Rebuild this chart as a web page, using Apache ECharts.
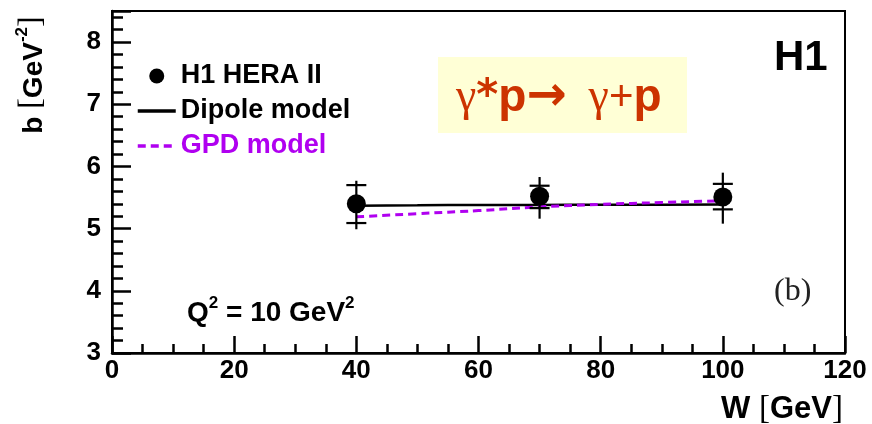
<!DOCTYPE html>
<html>
<head>
<meta charset="utf-8">
<script src="https://cdn.jsdelivr.net/npm/echarts@6/dist/echarts.min.js"></script>
<style>
  html, body { margin: 0; padding: 0; background: #fff; }
  #chart { width: 872px; height: 424px; }
</style>
</head>
<body>
<div id="chart"></div>
<script>
// DVCS t-slope b versus W at Q^2 = 10 GeV^2
const W = [40, 70, 100];
const bValue = [5.40, 5.52, 5.51];
const statHigh = [5.70, 5.69, 5.72];
const statLow = [5.09, 5.33, 5.31];
const totalHigh = [5.77, 5.83, 5.90];
const totalLow = [4.99, 5.16, 5.08];

// model curves
const modelW = [40, 50, 60, 70, 80, 90, 100];
const dipole = [5.37, 5.375, 5.38, 5.38, 5.385, 5.385, 5.39];
const gpd = [5.19, 5.24, 5.29, 5.35, 5.39, 5.42, 5.45];

const xTicks = [0, 20, 40, 60, 80, 100, 120];
const yTicks = [3, 4, 5, 6, 7, 8];

const SANS = 'Liberation Sans, Arial, Helvetica, sans-serif';
const SERIF = 'Liberation Serif, Times New Roman, serif';
const DEJAVU = 'DejaVu Sans, sans-serif';
const GPD_COLOR = '#b000f0';
const REACTION_COLOR = '#cc3300';

const chart = echarts.init(document.getElementById('chart'));

const errorData = W.map((w, i) => [w, totalLow[i], totalHigh[i], statLow[i], statHigh[i]]);

chart.setOption({
  animation: false,
  backgroundColor: '#ffffff',
  grid: {
    left: 112, right: 27, top: 11, bottom: 71,
    show: true, borderColor: '#000', borderWidth: 2, backgroundColor: 'transparent'
  },
  xAxis: {
    type: 'value',
    min: xTicks[0], max: xTicks[xTicks.length - 1], interval: 20,
    axisLine: { lineStyle: { color: '#000', width: 2.5 } },
    axisTick: { inside: true, length: 17, lineStyle: { color: '#000', width: 2.5 } },
    minorTick: { show: true, splitNumber: 4, length: 9, lineStyle: { color: '#000', width: 2.5 } },
    splitLine: { show: false },
    axisLabel: {
      margin: 5, color: '#000', fontFamily: SANS, fontWeight: 'bold', fontSize: 26
    }
  },
  yAxis: {
    type: 'value',
    min: yTicks[0], max: 8.5, interval: 1,
    axisLine: { lineStyle: { color: '#000', width: 2.5 } },
    axisTick: { inside: true, length: 19, lineStyle: { color: '#000', width: 2.5 } },
    minorTick: { show: true, splitNumber: 5, length: 11, lineStyle: { color: '#000', width: 2.5 } },
    splitLine: { show: false },
    axisLabel: {
      margin: 11, color: '#000', fontFamily: SANS, fontWeight: 'bold', fontSize: 26,
      showMaxLabel: false,
      formatter: v => (yTicks.indexOf(v) >= 0 ? String(v) : '')
    }
  },
  legend: {
    orient: 'vertical',
    left: 131, top: 57,
    itemWidth: 38, itemHeight: 15, itemGap: 7,
    textStyle: { fontFamily: SANS, fontWeight: 'bold', fontSize: 27, lineHeight: 28, color: '#000' },
    data: [
      { name: 'H1 HERA II', icon: 'circle', itemStyle: { opacity: 1 } },
      { name: 'Dipole model', itemStyle: { opacity: 0 }, lineStyle: { width: 3.5 } },
      { name: 'GPD model', itemStyle: { opacity: 0 }, lineStyle: { width: 3.5 }, textStyle: { color: GPD_COLOR } }
    ]
  },
  series: [
    {
      name: 'Dipole model',
      type: 'line',
      data: modelW.map((w, i) => [w, dipole[i]]),
      symbol: 'none',
      smooth: true,
      lineStyle: { color: '#000', width: 2.5 },
      itemStyle: { color: '#000' },
      z: 2
    },
    {
      name: 'GPD model',
      type: 'line',
      data: modelW.map((w, i) => [w, gpd[i]]),
      symbol: 'none',
      smooth: true,
      lineStyle: { color: GPD_COLOR, width: 3, type: [8, 5] },
      itemStyle: { color: GPD_COLOR },
      z: 3
    },
    {
      name: 'errors',
      type: 'custom',
      data: errorData,
      renderItem: function (params, api) {
        const x = api.value(0);
        const pLo = api.coord([x, api.value(1)]);
        const pHi = api.coord([x, api.value(2)]);
        const sLo = api.coord([x, api.value(3)]);
        const sHi = api.coord([x, api.value(4)]);
        const half = 10;
        const style = { stroke: '#000', lineWidth: 2.2 };
        return {
          type: 'group',
          children: [
            { type: 'line', shape: { x1: pLo[0], y1: pLo[1], x2: pHi[0], y2: pHi[1] }, style: style },
            { type: 'line', shape: { x1: sLo[0] - half, y1: sLo[1], x2: sLo[0] + half, y2: sLo[1] }, style: style },
            { type: 'line', shape: { x1: sHi[0] - half, y1: sHi[1], x2: sHi[0] + half, y2: sHi[1] }, style: style }
          ]
        };
      },
      z: 4
    },
    {
      name: 'H1 HERA II',
      type: 'scatter',
      data: W.map((w, i) => [w, bValue[i]]),
      symbol: 'circle',
      symbolSize: 19,
      itemStyle: { color: '#000', opacity: 1 },
      z: 5
    }
  ],
  graphic: [
    // y axis title
    {
      type: 'text',
      x: 31, y: 75,
      rotation: Math.PI / 2,
      style: {
        text: '{n|b }{br|[}{n|GeV}{sup|-2}{br|]}',
        align: 'center', verticalAlign: 'middle',
        rich: {
          n: { fontFamily: SANS, fontWeight: 'bold', fontSize: 28, lineHeight: 34, fill: '#000', verticalAlign: 'bottom' },
          br: { fontFamily: SERIF, fontSize: 32, lineHeight: 34, fill: '#000', verticalAlign: 'bottom' },
          sup: { fontFamily: SANS, fontWeight: 'bold', fontSize: 17, lineHeight: 18, fill: '#000', verticalAlign: 'top' }
        }
      }
    },
    // x axis title
    {
      type: 'text',
      x: 843, y: 409,
      style: {
        text: '{n|W }{br|[}{n|GeV}{br|]}',
        align: 'right', verticalAlign: 'middle',
        rich: {
          n: { fontFamily: SANS, fontWeight: 'bold', fontSize: 31, fill: '#000' },
          br: { fontFamily: SERIF, fontSize: 33, fill: '#000' }
        }
      }
    },
    // experiment tag
    {
      type: 'text',
      x: 774, y: 58,
      style: {
        text: 'H1', align: 'left', verticalAlign: 'middle',
        fontFamily: SANS, fontWeight: 'bold', fontSize: 42, fill: '#000'
      }
    },
    // panel label
    {
      type: 'text',
      x: 774, y: 292,
      style: {
        text: '(b)', align: 'left', verticalAlign: 'middle',
        fontFamily: SERIF, fontSize: 32, fill: '#222'
      }
    },
    // kinematic condition
    {
      type: 'text',
      x: 187, y: 311,
      style: {
        text: '{n|Q}{sup|2}{n| = 10 GeV}{sup|2}',
        align: 'left', verticalAlign: 'middle',
        rich: {
          n: { fontFamily: SANS, fontWeight: 'bold', fontSize: 28, lineHeight: 32, fill: '#000', verticalAlign: 'bottom' },
          sup: { fontFamily: SANS, fontWeight: 'bold', fontSize: 17, lineHeight: 18, fill: '#000', verticalAlign: 'top' }
        }
      }
    },
    // reaction box
    {
      type: 'rect',
      shape: { x: 438, y: 57, width: 249, height: 76 },
      style: { fill: '#ffffd6' },
      z: 10
    },
    {
      type: 'text',
      x: 456, y: 98,
      z: 11,
      style: {
        text: '{g|γ}{s|*}{p|p}{a|→}{sp| }{g|γ}{pl|+}{p|p}',
        align: 'left', verticalAlign: 'middle',
        rich: {
          g: { fontFamily: SERIF, fontSize: 46, lineHeight: 50, fill: REACTION_COLOR },
          s: { fontFamily: DEJAVU, fontWeight: 'bold', fontSize: 42, lineHeight: 50, fill: REACTION_COLOR },
          p: { fontFamily: SANS, fontWeight: 'bold', fontSize: 46, lineHeight: 50, fill: REACTION_COLOR },
          a: { fontFamily: DEJAVU, fontWeight: 'bold', fontSize: 48, lineHeight: 50, fill: REACTION_COLOR },
          sp: { fontFamily: SANS, fontSize: 42, lineHeight: 50, width: 22 },
          pl: { fontFamily: SANS, fontSize: 42, lineHeight: 50, fill: REACTION_COLOR }
        }
      }
    }
  ]
});
</script>
</body>
</html>
